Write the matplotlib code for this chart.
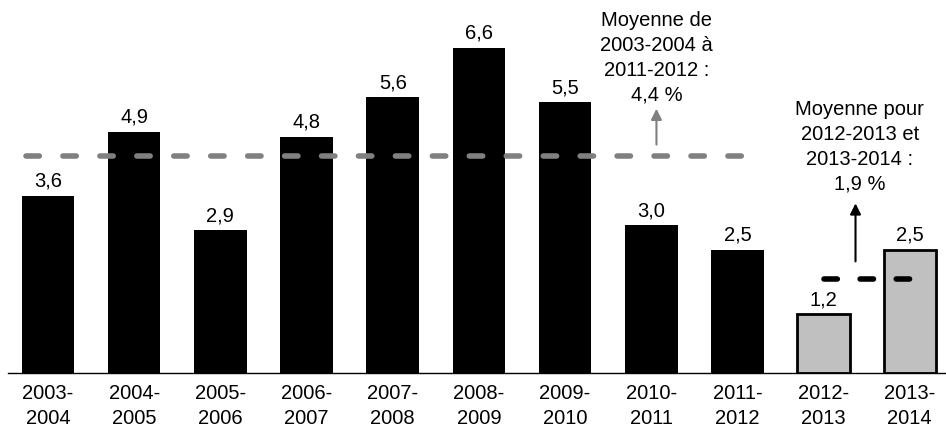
import matplotlib
matplotlib.use("Agg")
import matplotlib.pyplot as plt

plt.rcParams["font.family"] = ["Liberation Sans", "DejaVu Sans"]

years = ["2003-\n2004", "2004-\n2005", "2005-\n2006", "2006-\n2007", "2007-\n2008",
         "2008-\n2009", "2009-\n2010", "2010-\n2011", "2011-\n2012", "2012-\n2013",
         "2013-\n2014"]
values = [3.6, 4.9, 2.9, 4.8, 5.6, 6.6, 5.5, 3.0, 2.5, 1.2, 2.5]
n_past = 9
mean_past = 4.4
mean_recent = 1.9
note_past = "Moyenne de\n2003-2004 à\n2011-2012 :\n4,4 %"
note_recent = "Moyenne pour\n2012-2013 et\n2013-2014 :\n1,9 %"

fs = 14.5

fig = plt.figure(figsize=(9.46, 4.35), dpi=100)
ax = fig.add_axes([0.0085, 0.14, 0.9915, 0.86])

x = list(range(len(values)))
ax.bar(x[:n_past], values[:n_past], width=0.61, color="black")
ax.bar(x[n_past:], values[n_past:], width=0.61, color="#c0c0c0",
       edgecolor="black", linewidth=2)

for xi, v in zip(x, values):
    ax.text(xi, v + 0.12, f"{v:.1f}".replace(".", ","), ha="center", va="bottom",
            fontsize=fs)

# average lines
ax.plot([-0.26, 8.1], [mean_past, mean_past], color="#808080",
        lw=4, dashes=(2.4, 4.25), dash_capstyle="round")
ax.plot([9.0, 10.0], [mean_recent, mean_recent], color="black",
        lw=4, dashes=(2.4, 4.1), dash_capstyle="round")

ax.annotate("", xy=(7.06, 5.42), xytext=(7.06, 4.58),
            arrowprops=dict(arrowstyle="-|>", color="#808080", lw=1.5,
                            mutation_scale=16))
ax.text(7.06, 6.42, note_past, ha="center", va="center", fontsize=fs,
        linespacing=1.4)

ax.annotate("", xy=(9.37, 3.5), xytext=(9.37, 2.21),
            arrowprops=dict(arrowstyle="-|>", color="black", lw=1.5,
                            mutation_scale=16))
ax.text(9.42, 4.61, note_recent, ha="center", va="center", fontsize=fs,
        linespacing=1.4)

ax.set_xlim(-0.464, 10.42)
ax.set_ylim(0, 7.59)
ax.set_xticks(x)
ax.set_xticklabels(years, fontsize=fs, linespacing=1.4)
ax.tick_params(axis="x", length=0, pad=7)
ax.set_yticks([])
for side in ["top", "right", "left"]:
    ax.spines[side].set_visible(False)
ax.spines["bottom"].set_linewidth(1)

fig.savefig("out.png", dpi=100)
